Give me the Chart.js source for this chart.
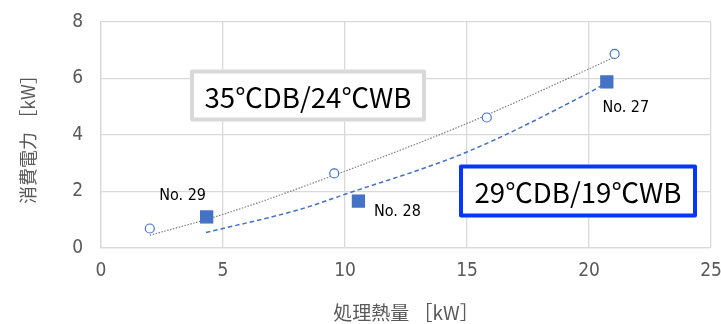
<!DOCTYPE html>
<html lang="ja">
<head>
<meta charset="utf-8">
<script src="https://cdn.jsdelivr.net/npm/chart.js@4/dist/chart.umd.min.js"></script>
<style>
  html, body { margin: 0; padding: 0; background: #ffffff; }
  #wrap { width: 721px; height: 324px; }
</style>
</head>
<body>
<div id="wrap"><canvas id="c" width="721" height="324"></canvas></div>
<script>
// 35℃DB/24℃WB measurements (open circles)
const loadHot = [2.0, 9.56, 15.81, 21.05];
const powerHot = [0.69, 2.64, 4.62, 6.87];
// 29℃DB/19℃WB measurements (filled squares)
const loadMild = [4.33, 10.55, 20.73];
const powerMild = [1.10, 1.66, 5.88];
const mildLabels = ['No. 29', 'No. 28', 'No. 27'];
// trend curves
const trendHotX = [2.0, 5, 10, 15, 20, 21.05];
const trendHotY = [0.45, 1.19, 2.72, 4.41, 6.34, 6.76];
const trendMildX = [4.3, 5, 8.16, 10, 15, 20, 20.73];
const trendMildY = [0.55, 0.69, 1.37, 1.90, 3.40, 5.50, 5.85];
// axis ticks
const xTicks = [0, 5, 10, 15, 20, 25];
const yTicks = [0, 2, 4, 6, 8];
const xTitle = '処理熱量 ［kW］';
const yTitle = '消費電力 ［kW］';
const conditionHot = '35℃DB/24℃WB';
const conditionMild = '29℃DB/19℃WB';

const pts = (xs, ys) => xs.map((x, i) => ({ x, y: ys[i] }));

const BLUE = '#4472C4';
const GRID = '#d9d9d9';
const TICK_FONT = '"Liberation Sans Narrow", "DejaVu Sans Condensed", "Liberation Sans", sans-serif';
const CJK_FONT = '"Noto Sans CJK JP", "Noto Sans", sans-serif';

// offsets of the "No." labels from their squares
const labelOffsets = [[-24, -21], [39, 11], [19, 26]];

const annotations = {
  id: 'annotations',
  afterDatasetsDraw(chart) {
    const ctx = chart.ctx;
    const meta = chart.getDatasetMeta(1);
    ctx.save();
    ctx.fillStyle = '#000000';
    ctx.font = '16px ' + TICK_FONT;
    ctx.textAlign = 'center';
    ctx.textBaseline = 'middle';
    meta.data.forEach((el, i) => {
      const [dx, dy] = labelOffsets[i];
      ctx.fillText(mildLabels[i], el.x + dx, el.y + dy);
    });

    const drawBox = (text, x, y, w, h, color, cx, cy) => {
      ctx.fillStyle = '#ffffff';
      ctx.fillRect(x, y, w, h);
      ctx.lineWidth = 4;
      ctx.strokeStyle = color;
      ctx.lineJoin = 'round';
      ctx.strokeRect(x + 2, y + 2, w - 4, h - 4);
      let size = 26;
      ctx.font = size + 'px ' + CJK_FONT;
      const wid = ctx.measureText(text).width;
      size = size * 207 / wid;
      ctx.font = size.toFixed(2) + 'px ' + CJK_FONT;
      ctx.fillStyle = '#000000';
      ctx.textAlign = 'center';
      ctx.textBaseline = 'middle';
      ctx.fillText(text, cx, cy);
    };
    drawBox(conditionHot, 190, 69.5, 236, 52, GRID, 308, 97);
    drawBox(conditionMild, 459, 164.5, 238, 53, '#0535FF', 578, 192);
    ctx.restore();
  }
};

new Chart(document.getElementById('c'), {
  type: 'scatter',
  data: {
    datasets: [
      {
        label: conditionHot,
        data: pts(loadHot, powerHot),
        pointStyle: 'circle',
        pointRadius: 4.5,
        pointBorderWidth: 1.2,
        pointBackgroundColor: '#ffffff',
        pointBorderColor: BLUE,
        order: 0
      },
      {
        label: conditionMild,
        data: pts(loadMild, powerMild),
        pointStyle: 'rect',
        pointRadius: 9.4,
        pointBorderWidth: 0,
        pointBackgroundColor: BLUE,
        pointBorderColor: BLUE,
        order: 0
      },
      {
        label: 'trend ' + conditionHot,
        data: pts(trendHotX, trendHotY),
        showLine: true,
        pointRadius: 0,
        borderColor: '#7f7f7f',
        borderWidth: 1.2,
        borderDash: [1.5, 1.5],
        cubicInterpolationMode: 'monotone',
        order: 1
      },
      {
        label: 'trend ' + conditionMild,
        data: pts(trendMildX, trendMildY),
        showLine: true,
        pointRadius: 0,
        borderColor: BLUE,
        borderWidth: 1.5,
        borderDash: [4.5, 3],
        cubicInterpolationMode: 'monotone',
        order: 1
      }
    ]
  },
  options: {
    responsive: false,
    animation: false,
    layout: { autoPadding: false, padding: { top: 22, right: 10, left: 0, bottom: 0 } },
    plugins: { legend: { display: false }, tooltip: { enabled: false } },
    scales: {
      x: {
        type: 'linear',
        min: 0, max: 25,
        afterBuildTicks(s) { s.ticks = xTicks.map(v => ({ value: v })); },
        afterFit(s) { s.height = 76; s.paddingRight = 0; s.paddingLeft = 0; },
        grid: { color: GRID, lineWidth: 1.3, drawTicks: false },
        border: { color: GRID, width: 1.3 },
        ticks: { color: '#595959', padding: 12, font: { family: TICK_FONT, size: 19 } },
        title: {
          display: true, text: xTitle, color: '#595959',
          font: { family: CJK_FONT, size: 19 },
          padding: { top: 0, bottom: 0 }
        }
      },
      y: {
        type: 'linear',
        min: 0, max: 8,
        afterBuildTicks(s) { s.ticks = yTicks.map(v => ({ value: v })); },
        afterFit(s) { s.width = 101; s.paddingTop = 0; s.paddingBottom = 0; },
        grid: { color: GRID, lineWidth: 1.3, drawTicks: false },
        border: { color: GRID, width: 1.3 },
        ticks: { color: '#595959', padding: 18, font: { family: TICK_FONT, size: 19 } },
        title: {
          display: true, text: yTitle, color: '#595959',
          font: { family: CJK_FONT, size: 18 },
          padding: { top: 17, bottom: 0 }
        }
      }
    }
  },
  plugins: [annotations]
});
</script>
</body>
</html>
